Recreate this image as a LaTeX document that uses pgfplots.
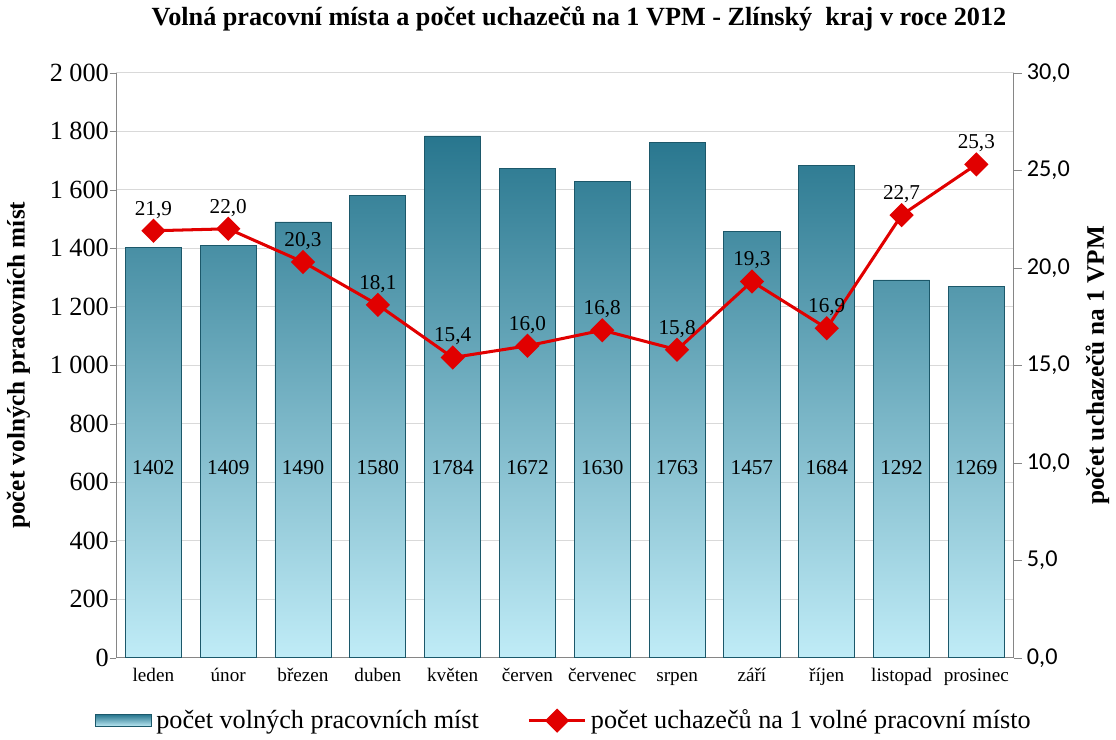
\documentclass[border=0pt]{standalone}
\usepackage{pgfplots}
\pgfplotsset{compat=1.18}
\usepackage{pgfplotstable}
\usepackage{fontspec}
\setmainfont{Liberation Serif}
\newfontfamily\calibri{Carlito}

\definecolor{bartop}{RGB}{40,118,142}
\definecolor{barbot}{RGB}{192,236,247}
\definecolor{baredge}{RGB}{28,88,106}
\definecolor{linered}{RGB}{225,0,0}
\definecolor{gridgray}{RGB}{217,217,217}
\definecolor{axisgray}{RGB}{134,134,134}

\pgfplotstableread{
x vpm uch
0 1402 21.9
1 1409 22.0
2 1490 20.3
3 1580 18.1
4 1784 15.4
5 1672 16.0
6 1630 16.8
7 1763 15.8
8 1457 19.3
9 1684 16.9
10 1292 22.7
11 1269 25.3
}\data

\begin{document}
\begin{tikzpicture}
\begin{axis}[
  scale only axis, width=445pt, height=290pt,
  xmin=-0.5, xmax=11.5, ymin=0, ymax=2000,
  axis x line*=bottom, axis y line*=left,
  axis line style={-, axisgray},
  ytick={0,200,...,2000},
  xtick={0,...,11},
  xticklabels={leden,únor,březen,duben,květen,červen,červenec,srpen,září,říjen,listopad,prosinec},
  major x tick style={draw=none},
  extra x ticks={-0.5,0.5,...,11.5},
  extra x tick labels={},
  extra x tick style={grid=none, major tick length=4pt, tick style={axisgray}},
  tick align=outside,
  major tick length=3pt,
  tick style={axisgray},
  ymajorgrids, grid style={gridgray, line width=0.6pt},
  x tick label style={font=\fontsize{9.5}{11}\selectfont, text height=1.6ex, text depth=0pt, yshift=2pt},
  y tick label style={font=\fontsize{13}{15}\selectfont, xshift=3pt},
  /pgf/number format/assume math mode=true,
  /pgf/number format/1000 sep={\ },
  ylabel={\textbf{počet volných pracovních míst}},
  ylabel style={font=\fontsize{12.5}{15}\selectfont, yshift=3pt},
  title={\textbf{Volná pracovní místa a počet uchazečů na 1 VPM - Zlínský\ \ kraj v roce 2012}},
  title style={font=\fontsize{13}{15}\selectfont, xshift=7pt, yshift=11pt},
]
\addplot[ybar, bar width=0.75, bar shift=0, draw=baredge, top color=bartop, bottom color=barbot]
  table[x=x, y=vpm]{\data};
\addplot[draw=none, mark=none, point meta=explicit,
  nodes near coords={\pgfmathprintnumber[1000 sep={}]{\pgfplotspointmeta}},
  every node near coord/.style={anchor=center, black, font=\fontsize{10.5}{12}\selectfont}]
  table[x=x, y expr=650, meta=vpm]{\data};
\end{axis}
\begin{axis}[
  scale only axis, width=445pt, height=290pt,
  xmin=-0.5, xmax=11.5, ymin=0, ymax=30,
  axis x line=none, axis y line*=right,
  axis line style={-, axisgray},
  ytick={0,5,...,30},
  tick align=outside,
  major tick length=4pt,
  tick style={axisgray},
  y tick label style={font=\calibri\fontsize{12}{14}\selectfont, xshift=-1pt},
  /pgf/number format/assume math mode=true,
  yticklabel style={/pgf/number format/.cd, fixed, fixed zerofill, precision=1, use comma},
  ylabel={\textbf{počet uchazečů na 1 VPM}},
  ylabel style={font=\fontsize{12.5}{15}\selectfont, yshift=-1pt},
  legend style={at={(0.5,-0.074)}, anchor=north, draw=none, legend columns=2,
    font=\fontsize{13}{15}\selectfont,
    /tikz/every even column/.append style={column sep=22pt}},
]
\addlegendimage{legend image code/.code={
  \draw[draw=baredge, top color=bartop, bottom color=barbot] (0pt,-3pt) rectangle (28pt,3pt);}}
\addlegendentry{počet volných pracovních míst}
\addplot[linered, line width=1.5pt, mark=square*, mark size=3.5pt, mark options={rotate=45, solid},
  point meta=explicit,
  nodes near coords={\pgfmathprintnumber[fixed, fixed zerofill, precision=1, use comma]{\pgfplotspointmeta}},
  every node near coord/.style={anchor=south, black, yshift=2pt, font=\fontsize{10.5}{12}\selectfont},
  legend image code/.code={
    \draw[mark repeat=2, mark phase=2] plot coordinates {(0pt,0pt) (14pt,0pt) (28pt,0pt)};}]
  table[x=x, y=uch, meta=uch]{\data};
\addlegendentry{počet uchazečů na 1 volné pracovní místo}
\end{axis}
\end{tikzpicture}
\end{document}
